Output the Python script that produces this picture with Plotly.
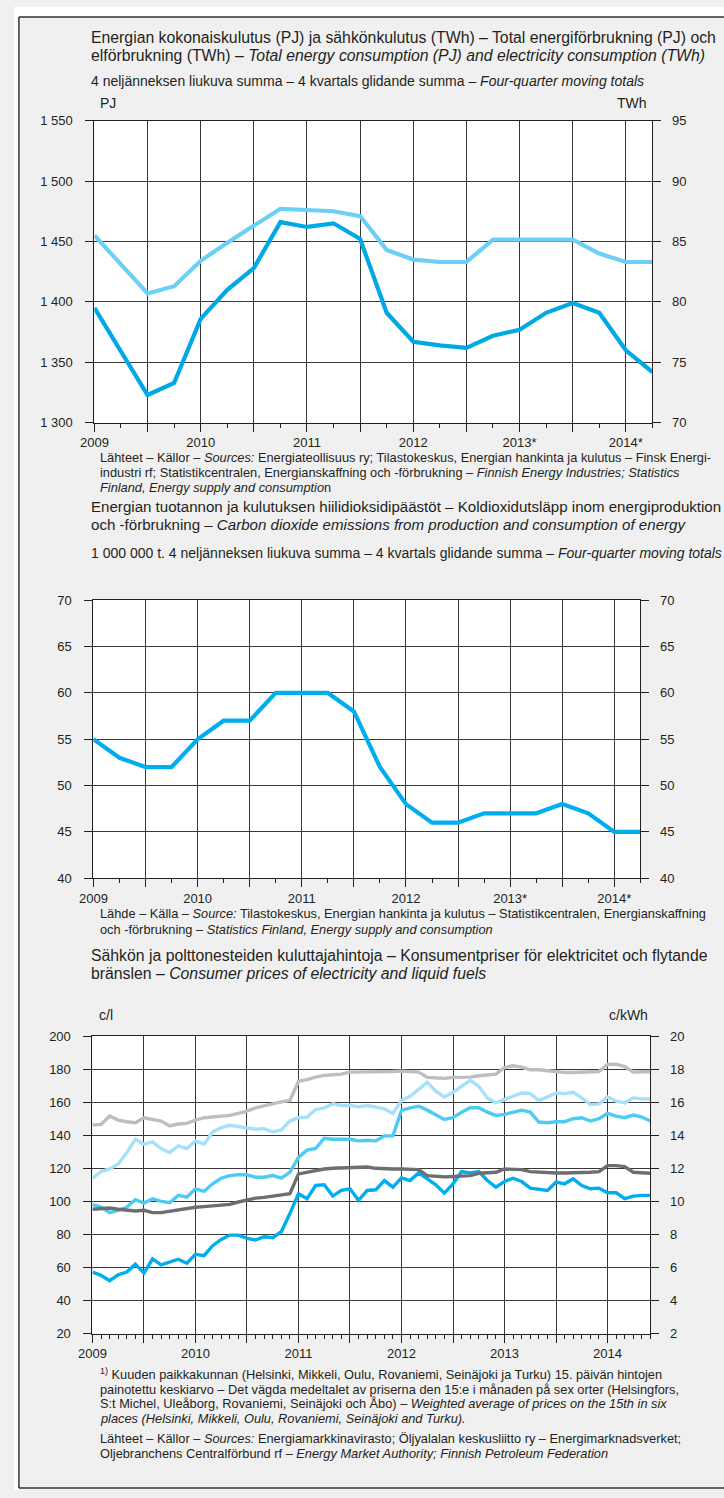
import plotly.graph_objects as go

W, H = 724, 1498
FONT = "Liberation Sans, Arial, sans-serif"
INK = "#231f20"
GRID = "#383838"

# ---- chart 1: quarterly moving totals, 2009Q1 .. 2014Q2 ----
energy_pj = [1395, 1359, 1323, 1333, 1386, 1410, 1428, 1466, 1462, 1465, 1452,
             1391, 1367, 1364, 1362, 1372, 1377, 1391, 1399, 1391, 1360, 1342]
electricity_twh = [85.5, 83.1, 80.7, 81.3, 83.4, 84.9, 86.3, 87.7, 87.6, 87.5, 87.1,
                   84.3, 83.5, 83.3, 83.3, 85.15, 85.15, 85.15, 85.15, 84.0, 83.3, 83.3]

# ---- chart 2: CO2 emissions, million t ----
co2_mt = [55, 53, 52, 52, 55, 57, 57, 60, 60, 60, 58,
          52, 48, 46, 46, 47, 47, 47, 48, 47, 45, 45]

# ---- chart 3: monthly consumer prices, 2009-01 .. 2014-06 ----
gasoline_cl = [146.2, 146.6, 151.6, 149.2, 148.2, 147.6, 150.6, 149.6, 148.6, 145.6,
               146.8, 147.2, 149.2, 150.6, 151.0, 151.6, 152.0, 153.2, 154.6, 156.6,
               158.0, 159.0, 160.2, 161.0, 172.6, 173.6, 175.2, 176.2, 176.6, 177.0,
               178.2, 178.2, 178.4, 178.2, 178.4, 178.6, 178.8, 178.6, 178.2, 175.0,
               174.6, 174.4, 175.0, 175.0, 175.2, 176.0, 176.6, 177.0, 181.0, 182.0,
               181.2, 179.6, 179.6, 179.0, 178.2, 178.0, 178.0, 178.2, 178.2, 178.6,
               182.8, 183.0, 181.6, 178.2, 178.4, 178.4]
diesel_cl = [114.0, 118.0, 119.6, 122.6, 129.6, 137.6, 134.6, 136.0, 132.0, 129.6,
             133.6, 132.0, 136.6, 134.6, 142.0, 144.6, 146.0, 145.2, 144.6, 143.6,
             144.0, 142.0, 143.2, 148.6, 150.6, 151.0, 155.6, 156.6, 159.0, 158.0,
             158.0, 157.2, 158.0, 157.2, 156.0, 153.2, 161.0, 163.6, 167.6, 172.0,
             166.6, 163.2, 166.0, 169.6, 173.2, 169.6, 162.6, 159.6, 161.6, 164.0,
             165.6, 165.2, 161.0, 163.2, 165.6, 165.2, 166.0, 162.6, 158.6, 159.0,
             163.2, 160.6, 159.6, 162.6, 162.0, 162.0]
heating_oil_cl = [57.2, 55.2, 52.0, 55.6, 57.2, 62.0, 56.6, 65.2, 61.6, 63.2,
                  65.0, 62.6, 68.0, 67.2, 73.2, 77.0, 79.6, 79.6, 77.6, 76.6,
                  78.6, 78.0, 81.6, 92.6, 104.6, 101.6, 109.6, 110.0, 103.2, 106.6,
                  107.6, 100.6, 106.6, 107.0, 112.6, 108.6, 114.2, 112.6, 117.2, 113.6,
                  110.0, 105.0, 110.6, 118.0, 117.2, 118.0, 112.6, 108.6, 112.0, 114.0,
                  112.0, 108.0, 107.2, 106.6, 111.6, 110.6, 113.6, 109.6, 107.6, 108.0,
                  105.2, 105.2, 101.6, 103.2, 103.6, 103.6]
elec_heating_ckwh = [9.80, 9.66, 9.32, 9.46, 9.66, 10.10, 9.90, 10.16, 10.00, 9.92,
                     10.36, 10.26, 10.76, 10.60, 11.06, 11.40, 11.56, 11.62, 11.60, 11.46,
                     11.46, 11.56, 11.40, 11.76, 12.66, 13.10, 13.20, 13.82, 13.76, 13.76,
                     13.76, 13.66, 13.70, 13.66, 13.96, 13.96, 15.50, 15.66, 15.76, 15.52,
                     15.26, 14.96, 15.06, 15.40, 15.66, 15.66, 15.40, 15.20, 15.26, 15.40,
                     15.52, 15.40, 14.80, 14.76, 14.82, 14.82, 15.00, 15.06, 14.86, 15.00,
                     15.32, 15.16, 15.06, 15.22, 15.10, 14.86]
elec_house_ckwh = [9.52, 9.56, 9.60, 9.52, 9.46, 9.42, 9.46, 9.32, 9.32, 9.40,
                   9.52, 9.56, 9.64, 9.68, 9.72, 9.76, 9.82, 9.96, 10.10, 10.20,
                   10.24, 10.32, 10.40, 10.46, 11.66, 11.76, 11.86, 11.96, 12.00, 12.02,
                   12.04, 12.06, 12.08, 12.00, 11.96, 11.96, 11.96, 11.96, 11.92, 11.56,
                   11.52, 11.48, 11.50, 11.52, 11.56, 11.70, 11.72, 11.76, 11.96, 11.96,
                   11.92, 11.80, 11.76, 11.76, 11.72, 11.72, 11.72, 11.76, 11.76, 11.80,
                   12.16, 12.16, 12.10, 11.76, 11.72, 11.70]

year_labels_q = ["2009", "2010", "2011", "2012", "2013*", "2014*"]
year_labels_m = ["2009", "2010", "2011", "2012", "2013", "2014"]

q_x = [2009 + i / 4 for i in range(len(energy_pj))]
m_x = [2009 + i / 12 for i in range(len(gasoline_cl))]


def px(v):
    return v / W


def py(v):
    return 1 - v / H


fig = go.Figure()


def line(x, y, color, width, xa, ya, name):
    fig.add_trace(go.Scatter(x=x, y=y, mode="lines", name=name, xaxis=xa, yaxis=ya,
                             line=dict(color=color, width=width), showlegend=False))


line(q_x, energy_pj, "#00a9e6", 4.2, "x", "y", "Energy consumption, PJ")
line(q_x, electricity_twh, "#6ccff6", 4.2, "x", "y2", "Electricity consumption, TWh")
line(q_x, co2_mt, "#00aeef", 4.2, "x2", "y3", "CO2 emissions")
line(q_x, co2_mt, "rgba(0,0,0,0)", 0.1, "x2", "y4", "CO2 (right)")
line(m_x, gasoline_cl, "#bcbec0", 3.4, "x3", "y5", "Gasoline, c/l")
line(m_x, diesel_cl, "#a6e0fa", 3.4, "x3", "y5", "Diesel, c/l")
line(m_x, heating_oil_cl, "#00aeef", 3.4, "x3", "y5", "Light fuel oil, c/l")
line(m_x, elec_heating_ckwh, "#4ccbf5", 3.4, "x3", "y6", "Electricity, c/kWh")
line(m_x, elec_house_ckwh, "#6d6e71", 3.4, "x3", "y6", "Electricity, c/kWh")

tickfont = dict(family=FONT, size=13, color=INK)


def xaxis(dom, anchor, end, labels, minor_step):
    years = list(range(2009, 2015))
    vals, text = [], []
    for yr, lab in zip(years, labels):
        vals += [yr, yr + 0.5]
        text += [lab, " "]
    return dict(domain=dom, anchor=anchor, range=[2009, end], tickmode="array",
                tickvals=vals, ticktext=text, ticks="outside", ticklen=8,
                tickcolor=INK, showgrid=True, gridcolor=GRID, gridwidth=1,
                showline=True, linecolor=INK, linewidth=1, mirror=True,
                zeroline=False, tickfont=tickfont, fixedrange=True,
                minor=dict(tick0=2009, dtick=minor_step, ticks="outside", ticklen=4,
                           tickcolor=INK, showgrid=False))


def yleft(dom, anchor, rng, step, fmt=""):
    return dict(domain=dom, anchor=anchor, range=rng, dtick=step, tick0=rng[0],
                ticks="outside", ticklen=8, tickcolor=INK, showgrid=True,
                gridcolor=GRID, gridwidth=1, showline=True, linecolor=INK,
                zeroline=False, tickfont=tickfont, tickformat=fmt,
                ticklabelstandoff=10, fixedrange=True)


def yright(over, anchor, rng, step):
    return dict(overlaying=over, anchor=anchor, side="right", range=rng, dtick=step,
                tick0=rng[0], ticks="outside", ticklen=8, tickcolor=INK,
                showgrid=False, showline=True, linecolor=INK, zeroline=False,
                tickfont=tickfont, ticklabelstandoff=8, fixedrange=True)


fig.update_layout(
    width=W, height=H,
    margin=dict(l=0, r=0, t=0, b=0),
    paper_bgcolor="#f0f0f0", plot_bgcolor="white",
    separators=", ",
    font=dict(family=FONT, size=14, color=INK),
    xaxis=xaxis([px(82), px(651)], "y", 2014.25, year_labels_q, 0.25),
    yaxis=yleft([py(420), py(114.7)], "x", [1300, 1550], 50, ","),
    yaxis2=yright("y", "x", [70, 95], 5),
    xaxis2=xaxis([px(81), px(638.7)], "y3", 2014.25, year_labels_q, 0.25),
    yaxis3=yleft([py(880), py(599.3)], "x2", [40, 70], 5),
    yaxis4=yright("y3", "x2", [40, 70], 5),
    xaxis3=xaxis([px(80), px(649)], "y5", 2014 + 5 / 12, year_labels_m, 1 / 12),
    yaxis5=yleft([py(1340), py(1039.5)], "x3", [20, 200], 20),
    yaxis6=yright("y5", "x3", [2, 20], 2),
)

# white margin outside the framed panel + frame lines
fig.add_shape(type="rect", xref="paper", yref="paper", x0=0, x1=1, y0=py(10), y1=1,
              fillcolor="white", line_width=0, layer="below")
fig.add_shape(type="rect", xref="paper", yref="paper", x0=0, x1=px(5), y0=0, y1=1,
              fillcolor="white", line_width=0, layer="below")
for x0, x1, y0, y1 in [(5, W, 10, 10), (5, 5, 10, 1496), (5, W, 1496, 1496)]:
    fig.add_shape(type="line", xref="paper", yref="paper", x0=px(x0), x1=px(x1),
                  y0=py(y0), y1=py(y1), line=dict(color="#333333", width=1.5))


def text(x, y, s, size=15, anchor="left"):
    fig.add_annotation(x=px(x), y=py(y), xref="paper", yref="paper", text=s,
                       showarrow=False, xanchor=anchor, yanchor="middle",
                       font=dict(family=FONT, size=size, color=INK))


T2, T3 = 14, 12.8

# chart 1 texts
text(76, 31, "Energian kokonaiskulutus (PJ) ja sähkönkulutus (TWh) – Total energiförbrukning (PJ) och", 15.8)
text(76, 49, "elförbrukning (TWh) – <i>Total energy consumption (PJ) and electricity consumption (TWh)</i>", 15.8)
text(76, 75, "4 neljänneksen liukuva summa – 4 kvartals glidande summa – <i>Four-quarter moving totals</i>", T2)
text(86, 97, "PJ", 14)
text(648, 97, "TWh", 14, anchor="right")
text(86, 455, "Lähteet – Källor – <i>Sources:</i> Energiateollisuus ry; Tilastokeskus, Energian hankinta ja kulutus – Finsk Energi-", T3)
text(86, 470, "industri rf; Statistikcentralen, Energianskaffning och -förbrukning – <i>Finnish Energy Industries; Statistics</i>", T3)
text(86, 485, "<i>Finland, Energy supply and consumptio</i>n", T3)

# chart 2 texts
text(76, 505, "Energian tuotannon ja kulutuksen hiilidioksidipäästöt – Koldioxidutsläpp inom energiproduktion", 15.1)
text(76, 523, "och -förbrukning – <i>Carbon dioxide emissions from production and consumption of energy</i>", 15.1)
text(76, 552, "1 000 000 t. 4 neljänneksen liukuva summa – 4 kvartals glidande summa – <i>Four-quarter moving totals</i>", T2)
text(86, 916, "Lähde – Källa – <i>Source:</i> Tilastokeskus, Energian hankinta ja kulutus – Statistikcentralen, Energianskaffning", T3)
text(86, 932, "och -förbrukning – <i>Statistics Finland, Energy supply and consumption</i>", T3)

# chart 3 texts
text(76, 958, "Sähkön ja polttonesteiden kuluttajahintoja – Konsumentpriser för elektricitet och flytande", 15.8)
text(76, 976, "bränslen – <i>Consumer prices of electricity and liquid fuels</i>", 15.8)
text(85, 1018, "c/l", 14)
text(649, 1018, "c/kWh", 14, anchor="right")
text(86, 1381, "<sup>1)</sup> Kuuden paikkakunnan (Helsinki, Mikkeli, Oulu, Rovaniemi, Seinäjoki ja Turku) 15. päivän hintojen", T3)
text(86, 1396, "painotettu keskiarvo – Det vägda medeltalet av priserna den 15:e i månaden på sex orter (Helsingfors,", T3)
text(86, 1411, "S:t Michel, Uleåborg, Rovaniemi, Seinäjoki och Åbo) – <i>Weighted average of prices on the 15th in six</i>", T3)
text(86, 1426, "<i>places (Helsinki, Mikkeli, Oulu, Rovaniemi, Seinäjoki and Turku).</i>", T3)
text(86, 1446, "Lähteet – Källor – <i>Sources:</i> Energiamarkkinavirasto; Öljyalalan keskusliitto ry – Energimarknadsverket;", T3)
text(86, 1461, "Oljebranchens Centralförbund rf – <i>Energy Market Authority; Finnish Petroleum Federation</i>", T3)

fig.write_html("out.html", config={"displayModeBar": False},
               post_script="document.body.style.margin='0';")
